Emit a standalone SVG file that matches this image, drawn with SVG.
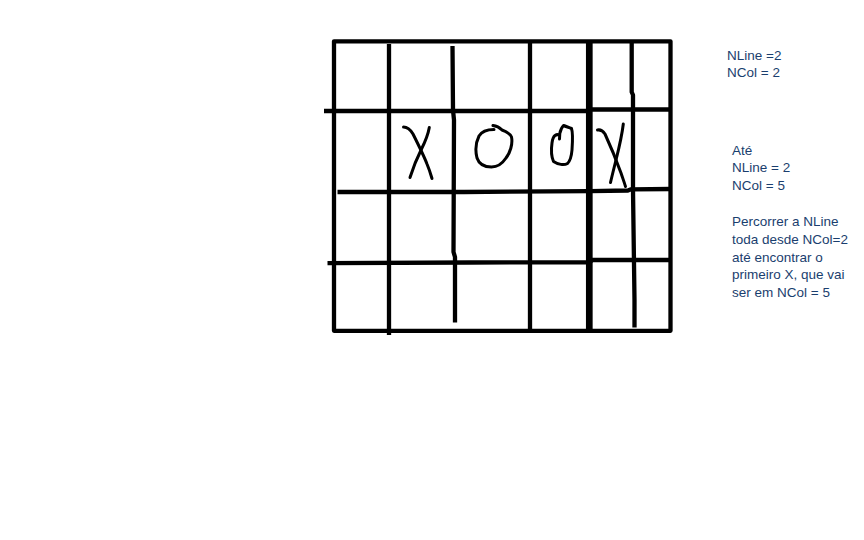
<svg xmlns="http://www.w3.org/2000/svg" width="864" height="540" viewBox="0 0 864 540">
<style>
.ln{fill:none;stroke:#000;stroke-width:4.3;stroke-linecap:butt;stroke-linejoin:round}
.pen{fill:none;stroke:#000;stroke-width:3;stroke-linecap:round;stroke-linejoin:round}
.t{font-family:"Liberation Sans",Arial,sans-serif;font-size:13.5px;fill:#1A3E6E}
</style>
<rect width="864" height="540" fill="#fff"/>
<g id="grid">
  <rect class="ln" x="334" y="41.3" width="336.5" height="289.5"/>
  <path class="ln" d="M389 44 L389 335"/>
  <path class="ln" d="M452.5 46 L453 110 L454 120 L453.5 252 L455 257 L455 322.5"/>
  <path class="ln" d="M530 41 L530 331"/>
  <path class="ln" style="stroke-width:6.7" d="M589.3 41 L589.3 331"/>
  <path class="ln" d="M631.7 43 L631.7 92 L633 95 L633 190 L634.5 300 L634.5 327.5"/>
  <path class="ln" d="M324 111 L590 111 M590 109.5 L670.5 109.5"/>
  <path class="ln" d="M337.5 192 L464 192 L590 191.2 L628 190.5 L631 189.3 L670.5 189"/>
  <path class="ln" d="M327.5 263.2 L470 262.5 L590 262.3 L592 260 L670.5 260"/>
</g>
<g id="marks">
  <path class="pen" d="M403.5 127 C407 127, 410 129, 413 134 C418 144, 424 156, 427 164 C429.5 170, 431 175, 432 178.5"/>
  <path class="pen" d="M429.3 127.5 C428 135, 425 142, 421.5 149 C417 158, 413 168, 410 177.5"/>
  <path class="pen" d="M493 125.5 C497 126, 500 128, 502 130 C506 131.5, 510 133, 511.5 137 C513 144, 510 153, 506 158 C502 164, 497 167, 491.5 167 C484 167, 479 164, 477 158 C475 150, 476 142, 479 136 C482 131, 487 129.5, 494 129.5"/>
  <path class="pen" d="M559.5 139 L559.8 133.5 C560.5 130, 562 127, 563.5 125.5 C566 126.5, 569 127.5, 571.5 128.5 C572.8 132, 572.7 140, 572 150 C571.5 156, 570 161, 567.5 163.5 C564 165.5, 558 164.5, 553.5 161.5 C551.5 157, 551 150, 552 143 C552.5 139, 553 137, 555 135.5 C556.5 134.5, 558 134.5, 559 135"/>
  <path class="pen" d="M597.5 130 C600 129.5, 603 131, 605 134 C611 147, 617 162, 621 173 C623 179, 624.5 183, 625.5 186.5"/>
  <path class="pen" d="M623.3 124 C622 135, 619 148, 616 160 C614 168, 612 176, 610.5 182.5"/>
</g>
<g id="notes">
  <text class="t" x="727" y="59.5">NLine =2</text>
  <text class="t" x="727" y="77">NCol = 2</text>
  <text class="t" x="732" y="154.5">Até</text>
  <text class="t" x="732" y="172">NLine = 2</text>
  <text class="t" x="732" y="189.5">NCol = 5</text>
  <text class="t" x="732" y="226">Percorrer a NLine</text>
  <text class="t" x="732" y="243.8">toda desde NCol=2</text>
  <text class="t" x="732" y="261.6">até encontrar o</text>
  <text class="t" x="732" y="279.4">primeiro X, que vai</text>
  <text class="t" x="732" y="297.2">ser em NCol = 5</text>
</g>
</svg>
